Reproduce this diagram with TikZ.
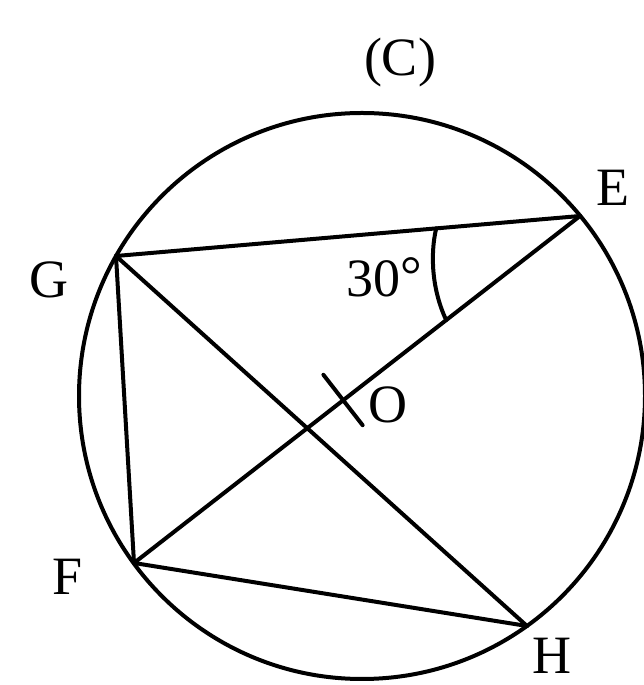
\documentclass[tikz,border=0pt]{standalone}
\usepackage{fontspec}
\setmainfont{Liberation Serif}
\usetikzlibrary{calc}
\begin{document}
\begin{tikzpicture}[x=1pt,y=1pt,
  geo/.style={line width=4pt,line cap=round,line join=round},
  lbl/.style={font=\fontsize{54}{60}\selectfont,inner sep=0pt}]
\useasboundingbox (0,0) rectangle (643,685);
\fill[white] (0,0) rectangle (643,685);
\coordinate (C) at (362,289);
\coordinate (E) at (580,469);
\coordinate (G) at (116,429);
\coordinate (F) at (134,122);
\coordinate (H) at (527,59);
\coordinate (O) at (343,285);
\coordinate (t1) at (323.4,310.2);
\coordinate (t2) at (362.6,259.8);
\coordinate (a1) at ($(E)!0.31!(G)$);
\coordinate (a2) at ($(E)!0.30!(F)$);
\draw[geo] (C) circle[radius=283];
\draw[geo] (G) -- (E);
\draw[geo] (E) -- (F);
\draw[geo] (G) -- (H);
\draw[geo] (G) -- (F);
\draw[geo] (F) -- (H);
\draw[geo] (t1) -- (t2);
\draw[geo] (a1) .. controls (430,430) and (432,395) .. (a2);
\node[lbl] (lc) at (400,622) {(C)};
\node[lbl] (le) at (613,497) {E};
\node[lbl] (lg) at (49,405) {G};
\node[lbl] (lf) at (68,108) {F};
\node[lbl,anchor=base] (lh) at (552,11) {H};
\node[lbl] (lo) at (388,280) {O};
\node[lbl] (la) at (384,408) {30\raisebox{3pt}{°}};
\end{tikzpicture}
\end{document}
